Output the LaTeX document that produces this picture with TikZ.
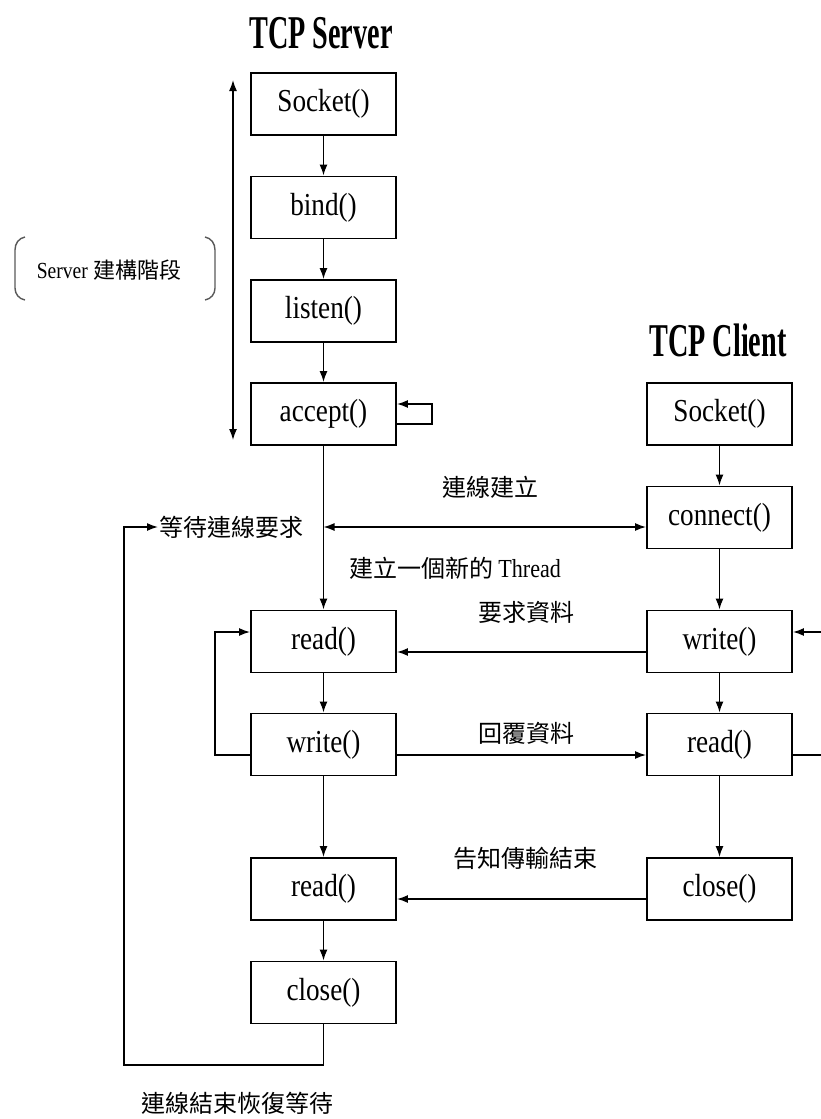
\documentclass[tikz,border=0pt]{standalone}
\usepackage{fontspec}
\usetikzlibrary{arrows.meta}
\setmainfont{Liberation Serif}
\newfontfamily\cjk{Noto Sans CJK TC}
\newfontfamily\boxfont[FakeStretch=0.85]{Liberation Serif}
\newfontfamily\titlefont[FakeStretch=0.6]{Liberation Serif}
\tikzset{
  fbox/.style={draw, line width=1.9pt, minimum width=145pt, minimum height=62pt, inner sep=0pt, font=\boxfont\fontsize{32}{32}\selectfont},
  arr/.style={line width=1.5pt, -{Latex[length=11pt,width=8pt]}},
  darr/.style={line width=1.5pt, {Latex[length=11pt,width=8pt]}-{Latex[length=11pt,width=8pt]}},
  ln/.style={line width=1.5pt},
  lbl/.style={font=\cjk\fontsize{24}{24}\selectfont, inner sep=1pt},
  ttl/.style={font=\titlefont\bfseries\fontsize{47}{47}\selectfont, inner sep=0pt}
}
\begin{document}
\begin{tikzpicture}[x=1pt,y=-1pt]
\useasboundingbox (0,0) rectangle (821,1119);
% titles
\node[ttl] (tsrv) at (321,33) {TCP Server};
\node[ttl] (tcli) at (718,340) {TCP Client};
% server column
\node[fbox] (ssock) at (323.5,104) {Socket()};
\node[fbox] (sbind) at (323.5,207.5) {bind()};
\node[fbox] (slist) at (323.5,311) {listen()};
\node[fbox] (sacc) at (323.5,414) {accept()};
\node[fbox] (sread) at (323.5,641.5) {read()};
\node[fbox] (swrite) at (323.5,744.5) {write()};
\node[fbox] (sread2) at (323.5,889) {read()};
\node[fbox] (sclose) at (323.5,992.5) {close()};
% client column
\node[fbox] (csock) at (719.5,414) {Socket()};
\node[fbox] (cconn) at (719.5,517.5) {connect()};
\node[fbox] (cwrite) at (719.5,641.5) {write()};
\node[fbox] (cread) at (719.5,744.5) {read()};
\node[fbox] (cclose) at (719.5,889) {close()};
% labels
\node[lbl] (phase) at (109,270) {{\boxfont\fontsize{23}{23}\selectfont Server} {\fontsize{22}{22}\selectfont 建構階段}};
\node[lbl, anchor=west] (wait) at (158,527) {等待連線要求};
\node[lbl] (estab) at (490,487) {連線建立};
\node[lbl] (thr) at (455,568) {建立一個新的 {\boxfont\fontsize{26}{26}\selectfont Thread}};
\node[lbl] (req) at (526,612) {要求資料};
\node[lbl] (rep) at (526,733) {回覆資料};
\node[lbl] (fin) at (525,858) {告知傳輸結束};
\node[lbl] (endw) at (237,1103) {連線結束恢復等待};
% brackets
\draw[line width=1.4pt, gray!70!black] (25,237) to[out=190,in=90] (15,250) -- (15,288) to[out=-90,in=170] (25,300);
\draw[line width=1.4pt, gray!70!black] (205,237) to[out=-10,in=90] (215,250) -- (215,288) to[out=-90,in=10] (205,300);
% phase arrow
\coordinate (ph1) at (233,80);
\coordinate (ph2) at (233,440);
\draw[darr] (ph1) -- (ph2);
% server vertical arrows
\draw[arr] (ssock) -- (sbind);
\draw[arr] (sbind) -- (slist);
\draw[arr] (slist) -- (sacc);
\draw[arr] (sacc) -- (sread);
\draw[arr] (sread) -- (swrite);
\draw[arr] (swrite) -- (sread2);
\draw[arr] (sread2) -- (sclose);
% client vertical arrows
\draw[arr] (csock) -- (cconn);
\draw[arr] (cconn) -- (cwrite);
\draw[arr] (cwrite) -- (cread);
\draw[arr] (cread) -- (cclose);
% accept self loop
\draw[arr] (sacc.east |- 0,424) -| (432,404) -- (sacc.east |- 0,404);
% connection
\draw[darr] (sacc.south |- 0,527) -- (cconn.west |- 0,527);
% data arrows
\draw[arr] (cwrite.west |- 0,652) -- (sread.east |- 0,652);
\draw[arr] (swrite.east |- 0,755) -- (cread.west |- 0,755);
\draw[arr] (cclose.west |- 0,899) -- (sread2.east |- 0,899);
% server write -> read loop
\draw[arr] (swrite.west |- 0,755) -| (215,632) -- (sread.west |- 0,632);
% client loop (cut by edge)
\coordinate (rr1) at (821,755);
\coordinate (rr2) at (821,632);
\draw[ln] (cread.east |- 0,755) -- (rr1);
\draw[arr] (rr2) -- (cwrite.east |- 0,632);
% return loop
\draw[arr] (sclose.south) |- (124,1065) |- (wait.west);
\end{tikzpicture}
\end{document}
